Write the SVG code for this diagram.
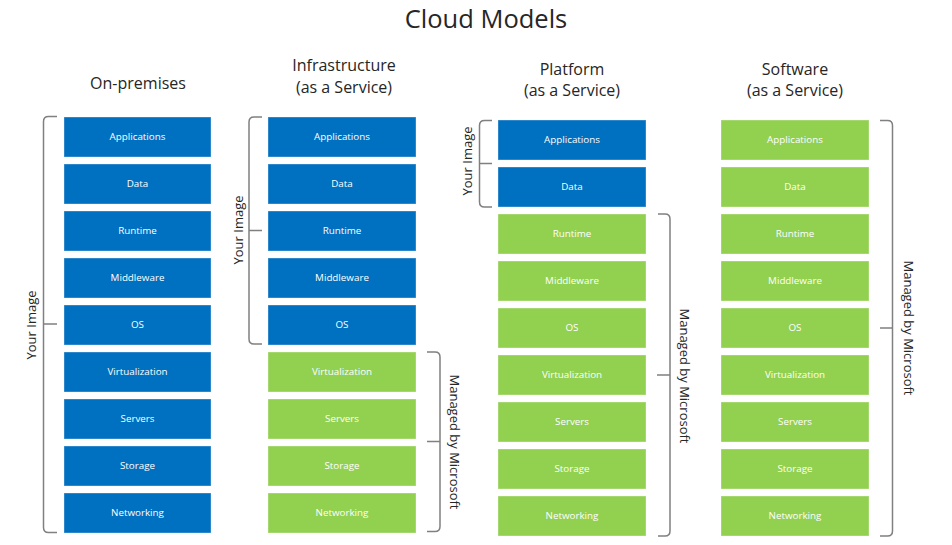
<svg xmlns="http://www.w3.org/2000/svg" width="952" height="545" viewBox="0 0 952 545">
<style>
text{font-family:"Open Sans","Noto Sans","Liberation Sans",sans-serif;}
.t{font-size:25.5px;fill:#262626;text-anchor:middle;}
.h{font-size:16px;fill:#262626;text-anchor:middle;}
.v{font-size:13px;fill:#262626;text-anchor:middle;dominant-baseline:central;}
.b rect{stroke:#ffffff;stroke-opacity:0.35;stroke-width:1;}
.blue rect{fill:#0070C0;}
.green rect{fill:#92D050;}
.b text{font-size:9.8px;fill:#ffffff;text-anchor:middle;dominant-baseline:central;}
.br{fill:none;stroke:#808080;stroke-width:1.5;}
</style>
<rect width="952" height="545" fill="#ffffff"/>
<text class="t" x="486" y="28">Cloud Models</text>
<text class="h" x="138" y="89">On-premises</text>
<text class="h" x="344" y="71">Infrastructure</text>
<text class="h" x="344" y="93">(as a Service)</text>
<text class="h" x="572" y="75">Platform</text>
<text class="h" x="572" y="96">(as a Service)</text>
<text class="h" x="795" y="75">Software</text>
<text class="h" x="795" y="96">(as a Service)</text>

<g id="onprem">
<g id="op-app" class="b blue"><rect x="64" y="117" width="147" height="40"/><text x="137.5" y="136.5">Applications</text></g>
<g id="op-data" class="b blue"><rect x="64" y="164" width="147" height="40"/><text x="137.5" y="183.5">Data</text></g>
<g id="op-run" class="b blue"><rect x="64" y="211" width="147" height="40"/><text x="137.5" y="230.5">Runtime</text></g>
<g id="op-mid" class="b blue"><rect x="64" y="258" width="147" height="40"/><text x="137.5" y="277.5">Middleware</text></g>
<g id="op-os" class="b blue"><rect x="64" y="305" width="147" height="40"/><text x="137.5" y="324.5">OS</text></g>
<g id="op-virt" class="b blue"><rect x="64" y="352" width="147" height="40"/><text x="137.5" y="371.5">Virtualization</text></g>
<g id="op-srv" class="b blue"><rect x="64" y="399" width="147" height="40"/><text x="137.5" y="418.5">Servers</text></g>
<g id="op-sto" class="b blue"><rect x="64" y="446" width="147" height="40"/><text x="137.5" y="465.5">Storage</text></g>
<g id="op-net" class="b blue"><rect x="64" y="493" width="147" height="40"/><text x="137.5" y="512.5">Networking</text></g>
</g>

<g id="iaas">
<g id="ia-app" class="b blue"><rect x="268" y="117" width="148" height="40"/><text x="342" y="136.5">Applications</text></g>
<g id="ia-data" class="b blue"><rect x="268" y="164" width="148" height="40"/><text x="342" y="183.5">Data</text></g>
<g id="ia-run" class="b blue"><rect x="268" y="211" width="148" height="40"/><text x="342" y="230.5">Runtime</text></g>
<g id="ia-mid" class="b blue"><rect x="268" y="258" width="148" height="40"/><text x="342" y="277.5">Middleware</text></g>
<g id="ia-os" class="b blue"><rect x="268" y="305" width="148" height="40"/><text x="342" y="324.5">OS</text></g>
<g id="ia-virt" class="b green"><rect x="268" y="352" width="148" height="40"/><text x="342" y="371.5">Virtualization</text></g>
<g id="ia-srv" class="b green"><rect x="268" y="399" width="148" height="40"/><text x="342" y="418.5">Servers</text></g>
<g id="ia-sto" class="b green"><rect x="268" y="446" width="148" height="40"/><text x="342" y="465.5">Storage</text></g>
<g id="ia-net" class="b green"><rect x="268" y="493" width="148" height="40"/><text x="342" y="512.5">Networking</text></g>
</g>

<g id="paas">
<g id="pa-app" class="b blue"><rect x="498" y="120" width="148" height="40"/><text x="572" y="139.5">Applications</text></g>
<g id="pa-data" class="b blue"><rect x="498" y="167" width="148" height="40"/><text x="572" y="186.5">Data</text></g>
<g id="pa-run" class="b green"><rect x="498" y="214" width="148" height="40"/><text x="572" y="233.5">Runtime</text></g>
<g id="pa-mid" class="b green"><rect x="498" y="261" width="148" height="40"/><text x="572" y="280.5">Middleware</text></g>
<g id="pa-os" class="b green"><rect x="498" y="308" width="148" height="40"/><text x="572" y="327.5">OS</text></g>
<g id="pa-virt" class="b green"><rect x="498" y="355" width="148" height="40"/><text x="572" y="374.5">Virtualization</text></g>
<g id="pa-srv" class="b green"><rect x="498" y="402" width="148" height="40"/><text x="572" y="421.5">Servers</text></g>
<g id="pa-sto" class="b green"><rect x="498" y="449" width="148" height="40"/><text x="572" y="468.5">Storage</text></g>
<g id="pa-net" class="b green"><rect x="498" y="496" width="148" height="40"/><text x="572" y="515.5">Networking</text></g>
</g>

<g id="saas">
<g id="sa-app" class="b green"><rect x="721" y="120" width="148" height="40"/><text x="795" y="139.5">Applications</text></g>
<g id="sa-data" class="b green"><rect x="721" y="167" width="148" height="40"/><text x="795" y="186.5">Data</text></g>
<g id="sa-run" class="b green"><rect x="721" y="214" width="148" height="40"/><text x="795" y="233.5">Runtime</text></g>
<g id="sa-mid" class="b green"><rect x="721" y="261" width="148" height="40"/><text x="795" y="280.5">Middleware</text></g>
<g id="sa-os" class="b green"><rect x="721" y="308" width="148" height="40"/><text x="795" y="327.5">OS</text></g>
<g id="sa-virt" class="b green"><rect x="721" y="355" width="148" height="40"/><text x="795" y="374.5">Virtualization</text></g>
<g id="sa-srv" class="b green"><rect x="721" y="402" width="148" height="40"/><text x="795" y="421.5">Servers</text></g>
<g id="sa-sto" class="b green"><rect x="721" y="449" width="148" height="40"/><text x="795" y="468.5">Storage</text></g>
<g id="sa-net" class="b green"><rect x="721" y="496" width="148" height="40"/><text x="795" y="515.5">Networking</text></g>
</g>

<g id="brackets">
<path class="br" d="M57 116.5 L48.5 116.5 Q43.5 116.5 43.5 121.5 L43.5 527.5 Q43.5 532.5 48.5 532.5 L57 532.5 M43.5 324 L57 324"/>
<path class="br" d="M262 117 L254 117 Q249 117 249 122 L249 339 Q249 344 254 344 L262 344 M249 230.5 L262 230.5"/>
<path class="br" d="M492 120.5 L484.5 120.5 Q479.5 120.5 479.5 125.5 L479.5 202 Q479.5 207 484.5 207 L492 207 M479.5 163.5 L492 163.5"/>
<path class="br" d="M427 352 L435 352 Q440 352 440 357 L440 526.5 Q440 531.5 435 531.5 L427 531.5 M440 441.5 L427 441.5"/>
<path class="br" d="M658 214 L665 214 Q670 214 670 219 L670 531 Q670 536 665 536 L658 536 M670 375 L657 375"/>
<path class="br" d="M880 120.5 L887.5 120.5 Q892.5 120.5 892.5 125.5 L892.5 531 Q892.5 536 887.5 536 L880 536 M892.5 328 L880 328"/>
</g>

<g id="labels">
<text class="v" transform="translate(31 325) rotate(-90)">Your Image</text>
<text class="v" transform="translate(238 230) rotate(-90)">Your Image</text>
<text class="v" transform="translate(467 161) rotate(-90)">Your Image</text>
<text class="v" transform="translate(455 442) rotate(90)">Managed by Microsoft</text>
<text class="v" transform="translate(685 376) rotate(90)">Managed by Microsoft</text>
<text class="v" transform="translate(909 328) rotate(90)">Managed by Microsoft</text>
</g>
</svg>
